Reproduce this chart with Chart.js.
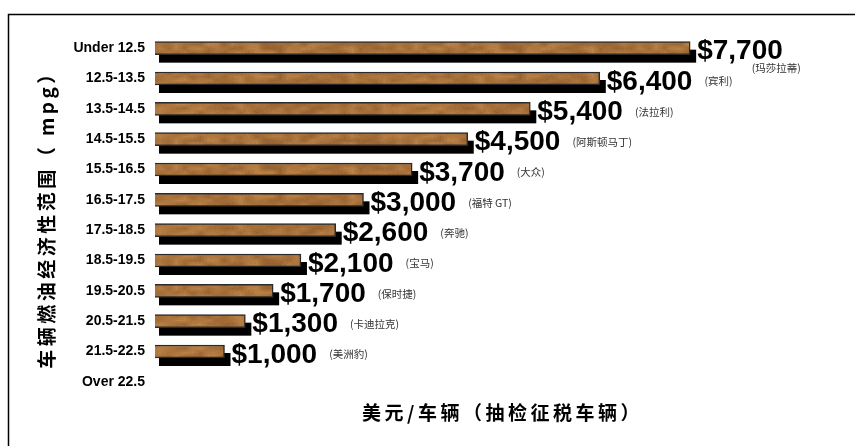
<!DOCTYPE html>
<html>
<head>
<meta charset="utf-8">
<script src="https://cdn.jsdelivr.net/npm/chart.js@4/dist/chart.umd.min.js"></script>
<style>
  body { margin: 0; background: #fff; }
</style>
</head>
<body>
<canvas id="taxChart" width="855" height="446"></canvas>
<script>
// mpg ranges, tax per vehicle (USD), example car for each range
const mpgRanges = ['Under 12.5', '12.5-13.5', '13.5-14.5', '14.5-15.5', '15.5-16.5', '16.5-17.5',
  '17.5-18.5', '18.5-19.5', '19.5-20.5', '20.5-21.5', '21.5-22.5', 'Over 22.5'];
const taxValues = [7700, 6400, 5400, 4500, 3700, 3000, 2600, 2100, 1700, 1300, 1000, null];
const carNames = ['玛莎拉蒂', '宾利', '法拉利', '阿斯顿马丁', '大众', '福特 GT', '奔驰', '宝马', '保时捷', '卡迪拉克', '美洲豹', ''];

const yTitle = '车辆燃油经济性范围（ mpg）';
const xTitle = '美元/车辆（抽检征税车辆）';

// brown wood-like fill (mottled value noise, fixed seed)
function woodPattern(ctx) {
  const w = 240, h = 24;
  const c = document.createElement('canvas');
  c.width = w; c.height = h;
  const g = c.getContext('2d');
  let seed = 12345;
  const rnd = () => { seed = (seed * 16807) % 2147483647; return seed / 2147483647; };
  const sx = 8, sy = 4;
  const cols = w / sx, rows = h / sy;
  const grid = [];
  for (let j = 0; j < rows; j++) {
    const r = [];
    for (let i = 0; i < cols; i++) r.push(rnd());
    grid.push(r);
  }
  const at = (i, j) => grid[(j + rows) % rows][(i + cols) % cols];
  const img = g.createImageData(w, h);
  for (let y = 0; y < h; y++) {
    for (let x = 0; x < w; x++) {
      const i = Math.floor(x / sx), j = Math.floor(y / sy);
      const tx = (x % sx) / sx, ty = (y % sy) / sy;
      const a = at(i, j) * (1 - tx) + at(i + 1, j) * tx;
      const b = at(i, j + 1) * (1 - tx) + at(i + 1, j + 1) * tx;
      const n = a * (1 - ty) + b * ty;
      const k = n * 0.75 + rnd() * 0.2;
      const p = (y * w + x) * 4;
      img.data[p] = 145 + k * 50;
      img.data[p + 1] = 94 + k * 42;
      img.data[p + 2] = 46 + k * 28;
      img.data[p + 3] = 255;
    }
  }
  g.putImageData(img, 0, 0);
  return ctx.createPattern(c, 'repeat');
}

// scale titles with wider letter spacing
function spacedTitle(s) {
  s.drawTitle = function () {
    this.ctx.save();
    this.ctx.letterSpacing = '3.5px';
    Chart.Scale.prototype.drawTitle.call(this);
    this.ctx.restore();
  };
}

const frame = {
  id: 'frame',
  beforeDraw(chart) {
    const ctx = chart.ctx;
    ctx.save();
    ctx.fillStyle = '#fff';
    ctx.fillRect(0, 0, chart.width, chart.height);
    ctx.strokeStyle = '#000';
    ctx.lineWidth = 1.5;
    ctx.strokeRect(8.5, 14.5, 1000, 1000);
    ctx.restore();
  }
};

const shadows = {
  id: 'shadows',
  beforeDatasetsDraw(chart) {
    const ctx = chart.ctx;
    const meta = chart.getDatasetMeta(0);
    ctx.save();
    ctx.fillStyle = '#000';
    meta.data.forEach((bar, i) => {
      if (taxValues[i] == null) return;
      ctx.fillRect(bar.base + 4, bar.y - bar.height / 2 + 8, bar.x - bar.base + 2, bar.height);
    });
    ctx.restore();
  }
};

const valueLabels = {
  id: 'valueLabels',
  afterDatasetsDraw(chart) {
    const ctx = chart.ctx;
    const meta = chart.getDatasetMeta(0);
    ctx.save();
    meta.data.forEach((bar, i) => {
      const v = taxValues[i];
      if (v == null) return;
      const txt = '$' + v.toLocaleString('en-US');
      ctx.font = 'bold 28px "Liberation Sans", Arial, sans-serif';
      ctx.fillStyle = '#000';
      ctx.textAlign = 'left';
      ctx.textBaseline = 'alphabetic';
      const x0 = bar.x + 7;
      ctx.fillText(txt, x0, bar.y + 11);
      const end = x0 + ctx.measureText(txt).width;
      ctx.font = '10.5px "Noto Sans CJK SC", sans-serif';
      ctx.fillStyle = '#333';
      ctx.textBaseline = 'middle';
      const name = '(' + carNames[i] + ')';
      if (i === 0) ctx.fillText(name, end - 31, bar.y + 20);
      else ctx.fillText(name, end + 12, bar.y + 3);
    });
    ctx.restore();
  }
};

const ctx = document.getElementById('taxChart').getContext('2d');
new Chart(ctx, {
  type: 'bar',
  data: {
    labels: mpgRanges,
    datasets: [{
      data: taxValues,
      backgroundColor: woodPattern(ctx),
      borderColor: '#2a2a2a',
      borderWidth: 1.5,
      barThickness: 13
    }]
  },
  options: {
    indexAxis: 'y',
    responsive: false,
    animation: false,
    layout: { padding: { top: 33, left: 8, right: 5, bottom: 0 } },
    plugins: {
      legend: { display: false },
      tooltip: { enabled: false }
    },
    scales: {
      x: {
        min: 0,
        max: 10000,
        grid: { display: false, drawTicks: false },
        border: { display: false },
        ticks: { display: false },
        title: {
          display: true,
          text: xTitle,
          color: '#000',
          font: { family: '"Noto Sans CJK SC", sans-serif', size: 19, weight: 'bold' },
          padding: { top: 0, bottom: 22 }
        },
        afterFit(s) { s.height = 49; spacedTitle(s); }
      },
      y: {
        grid: { display: false, drawTicks: false },
        border: { display: false },
        ticks: {
          color: '#000',
          padding: 10,
          font: { family: '"Liberation Sans", Arial, sans-serif', size: 14, weight: 'bold' }
        },
        title: {
          display: true,
          text: yTitle,
          color: '#000',
          font: { family: '"Noto Sans CJK SC", sans-serif', size: 19, weight: 'bold' },
          padding: { top: 27, bottom: 0 }
        },
        afterFit(s) { s.width = 147; spacedTitle(s); }
      }
    }
  },
  plugins: [frame, shadows, valueLabels]
});
</script>
</body>
</html>
